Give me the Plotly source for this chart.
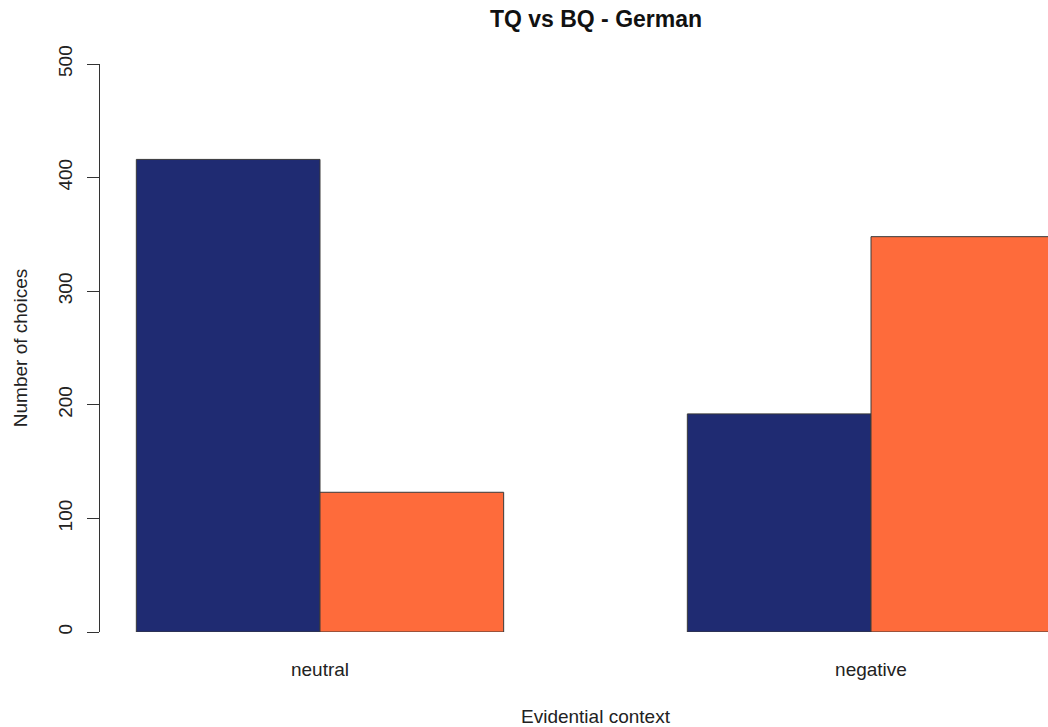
import plotly.graph_objects as go

# Choice counts per evidential context
contexts = ["neutral", "negative"]
tq_counts = [416, 192]
bq_counts = [123, 348]
y_ticks = [0, 100, 200, 300, 400, 500]

NAVY = "#1f2b72"
ORANGE = "#fe6b3b"
OUTLINE = "#3a3a3a"
FONT = "Liberation Sans, Arial, sans-serif"

W, H = 1048, 727
L, R, T, B = 100, 0, 64, 95

fig = go.Figure()
fig.add_trace(go.Bar(name="TQ", x=contexts, y=tq_counts,
                     marker=dict(color=NAVY, line=dict(color=OUTLINE, width=1))))
fig.add_trace(go.Bar(name="BQ", x=contexts, y=bq_counts,
                     marker=dict(color=ORANGE, line=dict(color=OUTLINE, width=1))))

plot_w = W - L - R
# category centres sit 551 px apart; the axis line is 220 px left of the first centre
unit = 551.0
x_lo = -220.0 / unit
x_hi = x_lo + plot_w / unit

fig.update_layout(
    width=W, height=H,
    margin=dict(l=L, r=R, t=T, b=B, autoexpand=False),
    paper_bgcolor="white", plot_bgcolor="white",
    barmode="group", bargap=1/3, bargroupgap=0,
    showlegend=False,
    font=dict(family=FONT, size=19, color="#222222"),
    title=dict(text="<b>TQ vs BQ - German</b>", x=596 / W, xanchor="center",
               y=1 - 19 / H, yanchor="middle", yref="container",
               font=dict(family=FONT, size=23, color="#111111")),
)

fig.update_xaxes(
    type="category", range=[x_lo, x_hi],
    showline=False, showgrid=False, zeroline=False,
    ticks="outside", ticklen=20, tickcolor="rgba(0,0,0,0)",
    tickfont=dict(size=19, color="#222222"),
)

fig.update_yaxes(
    range=[0, 500], tickvals=y_ticks, ticktext=[str(v) for v in y_ticks],
    showline=True, linecolor="#333333", linewidth=1,
    showgrid=False, zeroline=False,
    ticks="outside", ticklen=12, tickcolor="#333333", tickwidth=1,
    tickangle=-90, tickfont=dict(size=19, color="#222222"),
    ticklabelstandoff=7,
    title=dict(text="Number of choices", standoff=22,
               font=dict(size=19, color="#222222")),
)

fig.add_annotation(
    text="Evidential context", xref="paper", yref="paper",
    x=(596 - L) / plot_w, y=-(716 - (H - B)) / (H - T - B),
    xanchor="center", yanchor="middle", showarrow=False,
    font=dict(family=FONT, size=19, color="#222222"),
)

fig.write_html("out.html")
